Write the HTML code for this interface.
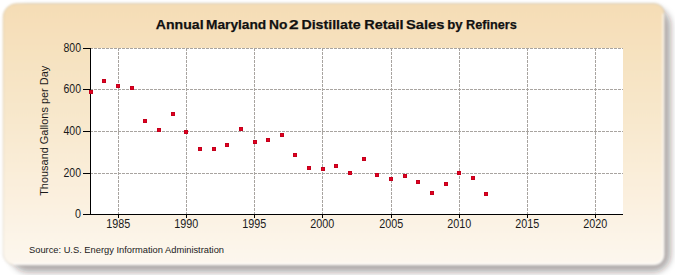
<!DOCTYPE html>
<html><head><meta charset="utf-8"><style>
html,body{margin:0;padding:0;background:#fff;width:675px;height:275px;overflow:hidden}
svg{position:absolute;left:0;top:0}
.c{shape-rendering:crispEdges}
text{font-family:"Liberation Sans",sans-serif;fill:#1a1a1a}
.tk{font-size:12px}
.ttl{font-size:13.6px;font-weight:bold;fill:#111;stroke:#111;stroke-width:0.25px}
.yl{font-size:11.5px}
.src{font-size:9.5px}
</style></head><body>
<svg width="675" height="275" viewBox="0 0 675 275">
<defs>
<filter id="fs" x="-5%" y="-5%" width="110%" height="110%"><feGaussianBlur stdDeviation="3"/></filter>
<filter id="fb" x="-2%" y="-2%" width="104%" height="104%"><feGaussianBlur stdDeviation="0.9"/></filter>
<linearGradient id="bg" x1="0" y1="0" x2="0" y2="1">
<stop offset="0" stop-color="#f5ddb5"/><stop offset="0.45" stop-color="#f8e8cd"/><stop offset="1" stop-color="#fdf7ee"/>
</linearGradient>
</defs>
<rect x="10.5" y="7.5" width="660.3" height="264.8" rx="18" fill="rgb(35,28,20)" fill-opacity="0.36" filter="url(#fs)"/>
<g filter="url(#fb)">
<path d="M17,3.5 H654.4 A10,10 0 0 1 664.4,13.5 V254.3 A11,11 0 0 1 653.4,265.3 H15 A12,12 0 0 1 3,253.3 V17.5 A14,14 0 0 1 17,3.5 Z" fill="url(#bg)" stroke="rgba(110,100,80,0.25)" stroke-width="0.8"/>
<path d="M13,264.3 H654.4 A9,9 0 0 0 663.4,255.3 V13.5" fill="none" stroke="#fff" stroke-opacity="0.85" stroke-width="1.6"/>
</g>
<text x="155.80" y="28.8" class="ttl" textLength="47.80" lengthAdjust="spacingAndGlyphs">Annual</text><text x="206.00" y="28.8" class="ttl" textLength="60.20" lengthAdjust="spacingAndGlyphs">Maryland</text><text x="269.00" y="28.8" class="ttl" textLength="18.40" lengthAdjust="spacingAndGlyphs">No</text><text x="289.00" y="28.8" class="ttl" textLength="9.60" lengthAdjust="spacingAndGlyphs">2</text><text x="301.40" y="28.8" class="ttl" textLength="59.20" lengthAdjust="spacingAndGlyphs">Distillate</text><text x="364.20" y="28.8" class="ttl" textLength="39.40" lengthAdjust="spacingAndGlyphs">Retail</text><text x="406.00" y="28.8" class="ttl" textLength="38.40" lengthAdjust="spacingAndGlyphs">Sales</text><text x="447.20" y="28.8" class="ttl" textLength="15.40" lengthAdjust="spacingAndGlyphs">by</text><text x="466.00" y="28.8" class="ttl" textLength="50.80" lengthAdjust="spacingAndGlyphs">Refiners</text>
<g class="c">
<rect x="91" y="48" width="532" height="166" fill="#fff"/>
<line x1="90" y1="173.5" x2="623" y2="173.5" stroke="#a8a4a0" stroke-width="1" stroke-dasharray="3,1"/>
<line x1="90" y1="131.5" x2="623" y2="131.5" stroke="#a8a4a0" stroke-width="1" stroke-dasharray="3,1"/>
<line x1="90" y1="89.5" x2="623" y2="89.5" stroke="#a8a4a0" stroke-width="1" stroke-dasharray="3,1"/>
<line x1="90" y1="48.5" x2="623" y2="48.5" stroke="#a8a4a0" stroke-width="1" stroke-dasharray="3,1"/>
<line x1="118.5" y1="48" x2="118.5" y2="214" stroke="#a8a4a0" stroke-width="1" stroke-dasharray="3,1"/>
<line x1="186.5" y1="48" x2="186.5" y2="214" stroke="#a8a4a0" stroke-width="1" stroke-dasharray="3,1"/>
<line x1="254.5" y1="48" x2="254.5" y2="214" stroke="#a8a4a0" stroke-width="1" stroke-dasharray="3,1"/>
<line x1="322.5" y1="48" x2="322.5" y2="214" stroke="#a8a4a0" stroke-width="1" stroke-dasharray="3,1"/>
<line x1="391.5" y1="48" x2="391.5" y2="214" stroke="#a8a4a0" stroke-width="1" stroke-dasharray="3,1"/>
<line x1="459.5" y1="48" x2="459.5" y2="214" stroke="#a8a4a0" stroke-width="1" stroke-dasharray="3,1"/>
<line x1="527.5" y1="48" x2="527.5" y2="214" stroke="#a8a4a0" stroke-width="1" stroke-dasharray="3,1"/>
<line x1="595.5" y1="48" x2="595.5" y2="214" stroke="#a8a4a0" stroke-width="1" stroke-dasharray="3,1"/>
<rect x="90" y="48" width="1" height="167" fill="#000"/>
<rect x="90" y="214" width="533" height="1" fill="#000"/>
<rect x="83" y="214" width="7" height="1" fill="#000"/>
<text x="81" y="218.3" text-anchor="end" class="tk" textLength="6.0" lengthAdjust="spacingAndGlyphs">0</text>
<rect x="83" y="173" width="7" height="1" fill="#000"/>
<text x="81" y="177.3" text-anchor="end" class="tk" textLength="17.5" lengthAdjust="spacingAndGlyphs">200</text>
<rect x="83" y="131" width="7" height="1" fill="#000"/>
<text x="81" y="135.3" text-anchor="end" class="tk" textLength="17.5" lengthAdjust="spacingAndGlyphs">400</text>
<rect x="83" y="89" width="7" height="1" fill="#000"/>
<text x="81" y="93.3" text-anchor="end" class="tk" textLength="17.5" lengthAdjust="spacingAndGlyphs">600</text>
<rect x="83" y="48" width="7" height="1" fill="#000"/>
<text x="81" y="52.3" text-anchor="end" class="tk" textLength="17.5" lengthAdjust="spacingAndGlyphs">800</text>
<rect x="118" y="215" width="1" height="3" fill="#000"/>
<text x="118.2" y="228" text-anchor="middle" class="tk" textLength="24" lengthAdjust="spacingAndGlyphs">1985</text>
<rect x="186" y="215" width="1" height="3" fill="#000"/>
<text x="186.2" y="228" text-anchor="middle" class="tk" textLength="24" lengthAdjust="spacingAndGlyphs">1990</text>
<rect x="254" y="215" width="1" height="3" fill="#000"/>
<text x="254.2" y="228" text-anchor="middle" class="tk" textLength="24" lengthAdjust="spacingAndGlyphs">1995</text>
<rect x="322" y="215" width="1" height="3" fill="#000"/>
<text x="322.2" y="228" text-anchor="middle" class="tk" textLength="24" lengthAdjust="spacingAndGlyphs">2000</text>
<rect x="391" y="215" width="1" height="3" fill="#000"/>
<text x="391.2" y="228" text-anchor="middle" class="tk" textLength="24" lengthAdjust="spacingAndGlyphs">2005</text>
<rect x="459" y="215" width="1" height="3" fill="#000"/>
<text x="459.2" y="228" text-anchor="middle" class="tk" textLength="24" lengthAdjust="spacingAndGlyphs">2010</text>
<rect x="527" y="215" width="1" height="3" fill="#000"/>
<text x="527.2" y="228" text-anchor="middle" class="tk" textLength="24" lengthAdjust="spacingAndGlyphs">2015</text>
<rect x="595" y="215" width="1" height="3" fill="#000"/>
<text x="595.2" y="228" text-anchor="middle" class="tk" textLength="24" lengthAdjust="spacingAndGlyphs">2020</text>
<rect x="89" y="90" width="4" height="4" fill="#c4001c"/><rect x="90" y="91" width="2" height="2" fill="#e2001f"/>
<rect x="102" y="79" width="4" height="4" fill="#c4001c"/><rect x="103" y="80" width="2" height="2" fill="#e2001f"/>
<rect x="116" y="84" width="4" height="4" fill="#c4001c"/><rect x="117" y="85" width="2" height="2" fill="#e2001f"/>
<rect x="130" y="86" width="4" height="4" fill="#c4001c"/><rect x="131" y="87" width="2" height="2" fill="#e2001f"/>
<rect x="143" y="119" width="4" height="4" fill="#c4001c"/><rect x="144" y="120" width="2" height="2" fill="#e2001f"/>
<rect x="157" y="128" width="4" height="4" fill="#c4001c"/><rect x="158" y="129" width="2" height="2" fill="#e2001f"/>
<rect x="171" y="112" width="4" height="4" fill="#c4001c"/><rect x="172" y="113" width="2" height="2" fill="#e2001f"/>
<rect x="184" y="130" width="4" height="4" fill="#c4001c"/><rect x="185" y="131" width="2" height="2" fill="#e2001f"/>
<rect x="198" y="147" width="4" height="4" fill="#c4001c"/><rect x="199" y="148" width="2" height="2" fill="#e2001f"/>
<rect x="212" y="147" width="4" height="4" fill="#c4001c"/><rect x="213" y="148" width="2" height="2" fill="#e2001f"/>
<rect x="225" y="143" width="4" height="4" fill="#c4001c"/><rect x="226" y="144" width="2" height="2" fill="#e2001f"/>
<rect x="239" y="127" width="4" height="4" fill="#c4001c"/><rect x="240" y="128" width="2" height="2" fill="#e2001f"/>
<rect x="253" y="140" width="4" height="4" fill="#c4001c"/><rect x="254" y="141" width="2" height="2" fill="#e2001f"/>
<rect x="266" y="138" width="4" height="4" fill="#c4001c"/><rect x="267" y="139" width="2" height="2" fill="#e2001f"/>
<rect x="280" y="133" width="4" height="4" fill="#c4001c"/><rect x="281" y="134" width="2" height="2" fill="#e2001f"/>
<rect x="293" y="153" width="4" height="4" fill="#c4001c"/><rect x="294" y="154" width="2" height="2" fill="#e2001f"/>
<rect x="307" y="166" width="4" height="4" fill="#c4001c"/><rect x="308" y="167" width="2" height="2" fill="#e2001f"/>
<rect x="321" y="167" width="4" height="4" fill="#c4001c"/><rect x="322" y="168" width="2" height="2" fill="#e2001f"/>
<rect x="334" y="164" width="4" height="4" fill="#c4001c"/><rect x="335" y="165" width="2" height="2" fill="#e2001f"/>
<rect x="348" y="171" width="4" height="4" fill="#c4001c"/><rect x="349" y="172" width="2" height="2" fill="#e2001f"/>
<rect x="362" y="157" width="4" height="4" fill="#c4001c"/><rect x="363" y="158" width="2" height="2" fill="#e2001f"/>
<rect x="375" y="173" width="4" height="4" fill="#c4001c"/><rect x="376" y="174" width="2" height="2" fill="#e2001f"/>
<rect x="389" y="177" width="4" height="4" fill="#c4001c"/><rect x="390" y="178" width="2" height="2" fill="#e2001f"/>
<rect x="403" y="174" width="4" height="4" fill="#c4001c"/><rect x="404" y="175" width="2" height="2" fill="#e2001f"/>
<rect x="416" y="180" width="4" height="4" fill="#c4001c"/><rect x="417" y="181" width="2" height="2" fill="#e2001f"/>
<rect x="430" y="191" width="4" height="4" fill="#c4001c"/><rect x="431" y="192" width="2" height="2" fill="#e2001f"/>
<rect x="444" y="182" width="4" height="4" fill="#c4001c"/><rect x="445" y="183" width="2" height="2" fill="#e2001f"/>
<rect x="457" y="171" width="4" height="4" fill="#c4001c"/><rect x="458" y="172" width="2" height="2" fill="#e2001f"/>
<rect x="471" y="176" width="4" height="4" fill="#c4001c"/><rect x="472" y="177" width="2" height="2" fill="#e2001f"/>
<rect x="484" y="192" width="4" height="4" fill="#c4001c"/><rect x="485" y="193" width="2" height="2" fill="#e2001f"/>
</g>
<text transform="translate(47.7,130.8) rotate(-90)" text-anchor="middle" class="yl" textLength="130" lengthAdjust="spacingAndGlyphs">Thousand Gallons per Day</text>
<text x="29" y="253" class="src" textLength="195" lengthAdjust="spacingAndGlyphs">Source: U.S. Energy Information Administration</text>
</svg>
</body></html>
